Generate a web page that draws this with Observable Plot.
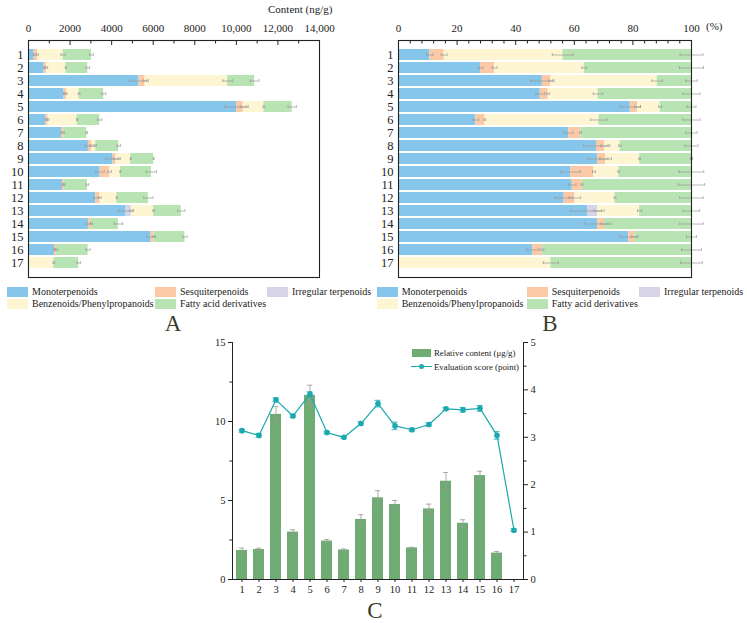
<!DOCTYPE html>
<html><head><meta charset="utf-8">
<script src="https://cdn.jsdelivr.net/npm/d3@7"></script>
<script src="https://cdn.jsdelivr.net/npm/@observablehq/plot@0.6"></script>
<style>
body{margin:0;background:#fff;font-family:"Liberation Serif",serif;}
#root{position:relative;width:747px;height:623px;overflow:hidden;background:#fff;}
.lg{position:absolute;font-size:10px;color:#222;white-space:nowrap;line-height:12px;}
.sw{position:absolute;width:21px;height:10px;}
.letter{position:absolute;font-size:23px;color:#3b3d2a;transform:translate(-50%,-50%);line-height:1;}
.cover{position:absolute;background:#fff;}
</style></head><body><div id="root"></div>
<script>
// ---------- data ----------
const samples = [1,2,3,4,5,6,7,8,9,10,11,12,13,14,15,16,17];
const classNames = ["Monoterpenoids","Sesquiterpenoids","Irregular terpenoids","Benzenoids/Phenylpropanoids","Fatty acid derivatives"];
const classColors = ["#86c6ea","#fbc9a6","#d7d4e8","#fef6d2","#b8e4b4"];

// Panel A: content (ng/g)
const monoA   = [272,753,5318,1714,10012,833,1586,2884,4069,3444,1650,3236,4694,2884,5895,1250,0];
const sesqA   = [158,128,289,112,321,112,112,160,144,465,80,208,0,144,145,96,0];
const irrA    = [0,0,0,0,0,0,0,0,0,0,0,0,256,0,0,0,0];
const benzA   = [1236,913,3973,609,993,1394,0,192,705,512,0,801,1074,0,0,0,1218];
const fattyA  = [1362,1058,1298,1186,1362,1089,1105,1105,1106,1490,1106,1522,1329,1297,1489,1522,1201];
const monoAErr  = [40,30,450,30,560,30,30,160,350,200,30,100,350,100,200,30,0];
const sesqAErr  = [40,40,80,30,150,30,40,100,130,80,20,60,0,50,50,40,0];
const irrAErr   = [0,0,0,0,0,0,0,0,0,0,0,0,80,0,0,0,0];
const benzAErr  = [100,20,240,40,40,30,0,40,20,20,0,20,40,0,0,0,40];
const fattyAErr = [90,80,210,100,200,100,40,80,20,250,60,220,170,200,100,100,80];

// Panel B: proportion (%)
const monoB   = [10.7,28.0,49.1,48.4,79.1,26.4,58.1,67.6,68.0,58.8,59.3,56.5,64.5,68.0,78.6,45.8,0];
const sesqB   = [4.9,4.8,2.9,2.7,2.5,3.1,4.1,2.7,2.7,7.9,3.4,3.7,0,2.3,2.0,3.3,0];
const irrB    = [0,0,0,0,0,0,0,0,0,0,0,0,3.5,0,0,0,0];
const benzB   = [40.5,30.6,36.3,17.0,7.7,38.9,0,5.3,11.6,8.5,0,13.7,14.3,0,0,0,52.0];
const fattyB  = [43.9,36.6,11.7,31.9,10.7,31.6,37.8,24.4,17.7,24.8,37.3,26.1,17.7,29.7,19.4,50.9,48.0];
const monoBErr  = [1.1,0.8,4.0,1.5,3.5,1.0,1.5,4.5,3.5,3.3,1.3,3.0,5.7,4.6,3.0,2.0,0];
const sesqBErr  = [1.0,0.8,0.7,0.5,1.0,0.3,0.3,1.2,2.0,0.5,0.3,2.0,0,1.2,1.0,0.5,0];
const irrBErr   = [0,0,0,0,0,0,0,0,0,0,0,0,1.3,0,0,0,0];
const benzBErr  = [3.6,0.8,1.8,1.6,0.5,2.8,0,0.4,0.3,0.3,0,0.3,0.7,0,0,0,2.6];
const fattyBErr = [3.9,4.1,2.0,2.9,1.5,2.9,1.9,2.2,0.4,4.2,4.5,4.0,2.8,4.0,1.7,3.4,3.7];

// Panel C
const relContent    = [1.84,1.9,10.45,3.0,11.65,2.43,1.87,3.8,5.17,4.75,2.0,4.47,6.22,3.56,6.58,1.67,0];
const relContentErr = [0.15,0.08,0.5,0.15,0.65,0.1,0.06,0.3,0.45,0.25,0.04,0.3,0.55,0.22,0.27,0.1,0];
const evalScore     = [3.14,3.04,3.79,3.45,3.91,3.10,3.00,3.29,3.71,3.24,3.16,3.27,3.60,3.58,3.61,3.04,1.04];
const evalScoreErr  = [0.03,0.04,0.04,0.03,0.05,0.03,0.02,0.04,0.07,0.08,0.03,0.04,0.03,0.05,0.06,0.08,0.03];

const contentTicks = [0,2000,4000,6000,8000,10000,12000,14000];
const contentMinor = [1000,3000,5000,7000,9000,11000,13000];
const percentTicks = [0,20,40,60,80,100];
const percentMinor = [4,8,12,16,24,28,32,36,44,48,52,56,64,68,72,76,84,88,92,96];
const leftTicksC  = [0,5,10,15];
const leftMinorC  = [2.5,7.5,12.5];
const rightTicksC = [0,1,2,3,4,5];
const rightMinorC = [0.5,1.5,2.5,3.5,4.5];

// ---------- helpers ----------
const root = document.getElementById("root");
const FONT = "Liberation Serif";
const ERR = "#9a9a9a";

function stackRows(series, errs) {
  const bars = [], errors = [];
  samples.forEach((s, i) => {
    let acc = 0;
    series.forEach((arr, k) => {
      const v = arr[i];
      if (!v) return;
      bars.push({sample: s, cls: classNames[k], x1: acc, x2: acc + v});
      acc += v;
      errors.push({sample: s, x: acc, e: errs[k][i]});
    });
  });
  return {bars, errors};
}

function place(el, left, top) {
  el.style.position = "absolute";
  el.style.left = left + "px";
  el.style.top = top + "px";
  el.style.background = "transparent";
  el.style.overflow = "visible";
  root.appendChild(el);
}

function stackPanel(data, {width, marginLeft, marginRight, domain, ticks, minor, minorSize, fmt}) {
  return Plot.plot({
    width, height: 282, marginLeft, marginRight, marginTop: 40, marginBottom: 5,
    style: {fontFamily: FONT, fontSize: "10px", color: "#222"},
    x: {domain},
    y: {type: "band", domain: samples, paddingInner: 0.14, paddingOuter: 0.07},
    color: {domain: classNames, range: classColors},
    marks: [
      Plot.barX(data.bars, {y: "sample", x1: "x1", x2: "x2", fill: "cls"}),
      Plot.ruleY(data.errors, {y: "sample", x1: d => d.x - d.e, x2: d => d.x + d.e, stroke: ERR, strokeWidth: 0.7}),
      Plot.tickX(data.errors, {y: "sample", x: d => d.x - d.e, stroke: ERR, strokeWidth: 0.7, insetTop: 4, insetBottom: 4}),
      Plot.tickX(data.errors, {y: "sample", x: d => d.x + d.e, stroke: ERR, strokeWidth: 0.7, insetTop: 4, insetBottom: 4}),
      Plot.frame({stroke: "#222", strokeWidth: 1.1}),
      Plot.axisX({anchor: "top", ticks, tickSize: 0, tickPadding: 9, tickFormat: fmt, label: null, fontSize: 11}),
      Plot.axisX({anchor: "top", ticks, tickSize: 4, dy: 4, tickFormat: () => "", label: null, stroke: "#222"}),
      Plot.axisX({anchor: "top", ticks: minor, tickSize: minorSize, dy: minorSize, tickFormat: () => "", label: null, stroke: "#222"}),
      Plot.axisY({anchor: "left", tickSize: 0, tickPadding: 5, label: null, fontSize: 12.5})
    ]
  });
}

// ---------- Panel A ----------
const A = stackRows([monoA, sesqA, irrA, benzA, fattyA], [monoAErr, sesqAErr, irrAErr, benzAErr, fattyAErr]);
place(stackPanel(A, {width: 340, marginLeft: 28, marginRight: 21, domain: [0, 14000],
  ticks: contentTicks, minor: contentMinor, minorSize: 2.5,
  fmt: d => d >= 10000 ? d3.format(",")(d) : String(d)}), 0, 0);

// ---------- Panel B ----------
const B = stackRows([monoB, sesqB, irrB, benzB, fattyB], [monoBErr, sesqBErr, irrBErr, benzBErr, fattyBErr]);
place(stackPanel(B, {width: 377, marginLeft: 28, marginRight: 56, domain: [0, 100],
  ticks: percentTicks, minor: percentMinor, minorSize: 2.5, fmt: d => String(d)}), 370, 0);

// ---------- Panel C ----------
const cData = samples.map((s, i) => ({sample: s, rel: relContent[i], relErr: relContentErr[i], score: evalScore[i], scoreErr: evalScoreErr[i]}));
const cBars = cData.filter(d => d.rel > 0);
const k = 15 / 5; // right axis (score 0–5) mapped onto left axis (0–15)
const TEAL = "#19a9ae";
const C = Plot.plot({
  width: 380, height: 275, marginLeft: 52, marginRight: 37, marginTop: 12, marginBottom: 26,
  style: {fontFamily: FONT, fontSize: "10px", color: "#222"},
  x: {type: "band", domain: samples, paddingInner: 0.38, paddingOuter: 0.165},
  y: {domain: [0, 15]},
  marks: [
    Plot.barY(cBars, {x: "sample", y: "rel", fill: "#6fac74"}),
    Plot.ruleX(cBars, {x: "sample", y1: d => d.rel - d.relErr, y2: d => d.rel + d.relErr, stroke: ERR, strokeWidth: 0.8}),
    Plot.tickY(cBars, {x: "sample", y: d => d.rel + d.relErr, stroke: ERR, strokeWidth: 0.8, insetLeft: 2.8, insetRight: 2.8}),
    Plot.tickY(cBars, {x: "sample", y: d => d.rel - d.relErr, stroke: ERR, strokeWidth: 0.8, insetLeft: 2.8, insetRight: 2.8}),
    Plot.line(cData, {x: "sample", y: d => d.score * k, stroke: TEAL, strokeWidth: 1.2}),
    Plot.ruleX(cData, {x: "sample", y1: d => (d.score - d.scoreErr) * k, y2: d => (d.score + d.scoreErr) * k, stroke: TEAL, strokeWidth: 0.8}),
    Plot.tickY(cData, {x: "sample", y: d => (d.score + d.scoreErr) * k, stroke: TEAL, strokeWidth: 0.8, insetLeft: 2.5, insetRight: 2.5}),
    Plot.tickY(cData, {x: "sample", y: d => (d.score - d.scoreErr) * k, stroke: TEAL, strokeWidth: 0.8, insetLeft: 2.5, insetRight: 2.5}),
    Plot.dot(cData, {x: "sample", y: d => d.score * k, r: 2.8, fill: TEAL, stroke: "none"}),
    Plot.frame({anchor: "left", stroke: "#222"}),
    Plot.frame({anchor: "right", stroke: "#222"}),
    Plot.frame({anchor: "bottom", stroke: "#222"}),
    Plot.axisY({anchor: "left", ticks: leftTicksC, tickSize: 4, tickPadding: 3, label: null, fontSize: 10.5}),
    Plot.axisY({anchor: "left", ticks: leftMinorC, tickSize: 2.5, tickFormat: () => "", label: null}),
    Plot.axisY({anchor: "right", ticks: rightTicksC.map(v => v * k), tickFormat: d => String(Math.round(d / k)), tickSize: 4, tickPadding: 3, label: null, fontSize: 10.5}),
    Plot.axisY({anchor: "right", ticks: rightMinorC.map(v => v * k), tickSize: 2.5, tickFormat: () => "", label: null}),
    Plot.axisX({anchor: "bottom", tickSize: 3, tickPadding: 3, label: null, fontSize: 10.5})
  ]
});
place(C, 180, 330);

// ---------- HTML text / legends ----------
function addText(txt, left, top, cls = "lg", extra = {}) {
  const d = document.createElement("div");
  d.className = cls;
  d.textContent = txt;
  d.style.left = left + "px";
  d.style.top = top + "px";
  Object.assign(d.style, extra);
  root.appendChild(d);
  return d;
}
function addSwatch(color, left, top, w = 21, h = 10) {
  const d = document.createElement("div");
  d.className = "sw";
  Object.assign(d.style, {left: left + "px", top: top + "px", width: w + "px", height: h + "px", background: color});
  root.appendChild(d);
}

addText("Content (ng/g)", 268, 3, "lg", {fontSize: "11px"});
addText("(%)", 706, 20, "lg", {fontSize: "11px"});

function legend(x0, cols, cover) {
  if (cover) {
    const c = document.createElement("div");
    c.className = "cover";
    Object.assign(c.style, {left: (x0 - 4) + "px", top: "284px", width: (747 - x0 + 4) + "px", height: "28px"});
    root.appendChild(c);
  }
  const pos = [[cols[0], 287], [cols[1], 287], [cols[2], 287], [cols[0], 299], [cols[1], 299]];
  classNames.forEach((n, i) => {
    const [x, y] = pos[i];
    addSwatch(classColors[i], x, y);
    addText(n, x + 25, y - 1);
  });
}
legend(7, [7, 155, 267], false);
legend(376.7, [376.7, 526.7, 639], true);

addText("A", 173, 323, "letter");
addText("B", 550, 323, "letter");
addText("C", 375, 610, "letter");

// legend C
addSwatch("#6fac74", 412, 349, 19, 8);
addText("Relative content (μg/g)", 434, 347, "lg", {fontSize: "8.8px"});
const ln = document.createElement("div");
Object.assign(ln.style, {position: "absolute", left: "411px", top: "366px", width: "21px", height: "1.3px", background: TEAL});
root.appendChild(ln);
const dt = document.createElement("div");
Object.assign(dt.style, {position: "absolute", left: "418.7px", top: "363.8px", width: "5.6px", height: "5.6px", borderRadius: "50%", background: TEAL});
root.appendChild(dt);
addText("Evaluation score (point)", 434, 361, "lg", {fontSize: "8.8px"});
</script>
</body></html>
